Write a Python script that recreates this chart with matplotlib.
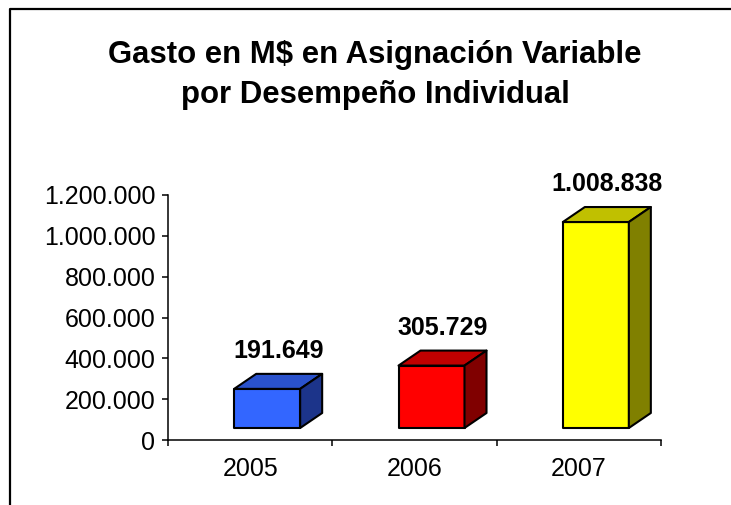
import matplotlib
matplotlib.use("Agg")
import matplotlib.pyplot as plt
from matplotlib.patches import Polygon
from matplotlib.lines import Line2D
from matplotlib.ticker import FuncFormatter

plt.rcParams['font.family'] = ['Liberation Sans', 'DejaVu Sans']

# datos
anios = ['2005', '2006', '2007']
gasto = [191649, 305729, 1008838]
colores = [('#3366FF', '#2A52CC', '#1C348A'),
           ('#FF0000', '#C00000', '#800000'),
           ('#FFFF00', '#C0C000', '#808000')]

W, H = 731, 505
fig = plt.figure(figsize=(W / 100, H / 100), dpi=100)
ax = fig.add_axes([168 / W, (H - 440) / H, (661 - 168) / W, (440 - 195) / H])
ax.set_xlim(-0.5, 2.5)
ax.set_ylim(0, 1200000)

# pixeles -> unidades de datos
px_x = 3 / 493
px_y = 1200000 / 245

def fmt(v, pos=None):
    return f"{int(v):,}".replace(",", ".")

ancho = 66 * px_x
fx, fy = 17 * px_x, 12 * px_y      # desplazamiento de la cara frontal
dx, dy = 22 * px_x, 15 * px_y      # profundidad 3D

for i, v in enumerate(gasto):
    frente, techo, lado = colores[i]
    x0 = i + fx - ancho / 2
    x1 = x0 + ancho
    y0 = fy
    y1 = fy + v
    caras = [
        ([(x0, y0), (x1, y0), (x1, y1), (x0, y1)], frente),
        ([(x0, y1), (x1, y1), (x1 + dx, y1 + dy), (x0 + dx, y1 + dy)], techo),
        ([(x1, y0), (x1 + dx, y0 + dy), (x1 + dx, y1 + dy), (x1, y1)], lado),
    ]
    for pts, c in caras:
        ax.add_patch(Polygon(pts, closed=True, facecolor=c, edgecolor='black',
                             linewidth=1.5, joinstyle='round', clip_on=False, zorder=3))
    ax.text(i + fx + 11 * px_x, y1 + 26 * px_y, fmt(v), ha='center', va='bottom',
            fontsize=18, fontweight='bold', clip_on=False)

for s in ['top', 'right']:
    ax.spines[s].set_visible(False)
for s in ['left', 'bottom']:
    ax.spines[s].set_linewidth(1.1)

ax.set_yticks(range(0, 1200001, 200000))
ax.yaxis.set_major_formatter(FuncFormatter(fmt))
ax.tick_params(axis='y', direction='out', length=4, width=1.1, labelsize=18, pad=5)

ax.set_xticks([-0.5, 0.5, 1.5, 2.5])
ax.set_xticklabels([])
ax.set_xticks([0, 1, 2], minor=True)
ax.set_xticklabels(anios, minor=True)
ax.tick_params(axis='x', which='major', direction='out', length=4, width=1.1)
ax.tick_params(axis='x', which='minor', length=0, labelsize=18, pad=12)

fig.text(375 / W, 1 - 75 / H, 'Gasto en M$ en Asignación Variable\npor Desempeño Individual',
         ha='center', va='center', fontsize=22.4, fontweight='bold', linespacing=1.42)

# marco del gráfico
fig.add_artist(Line2D([9.5 / W, 9.5 / W, 1.0], [0.0, 1 - 8.5 / H, 1 - 8.5 / H],
                      transform=fig.transFigure, color='black', linewidth=1.6))

fig.savefig('out.png', dpi=100)
